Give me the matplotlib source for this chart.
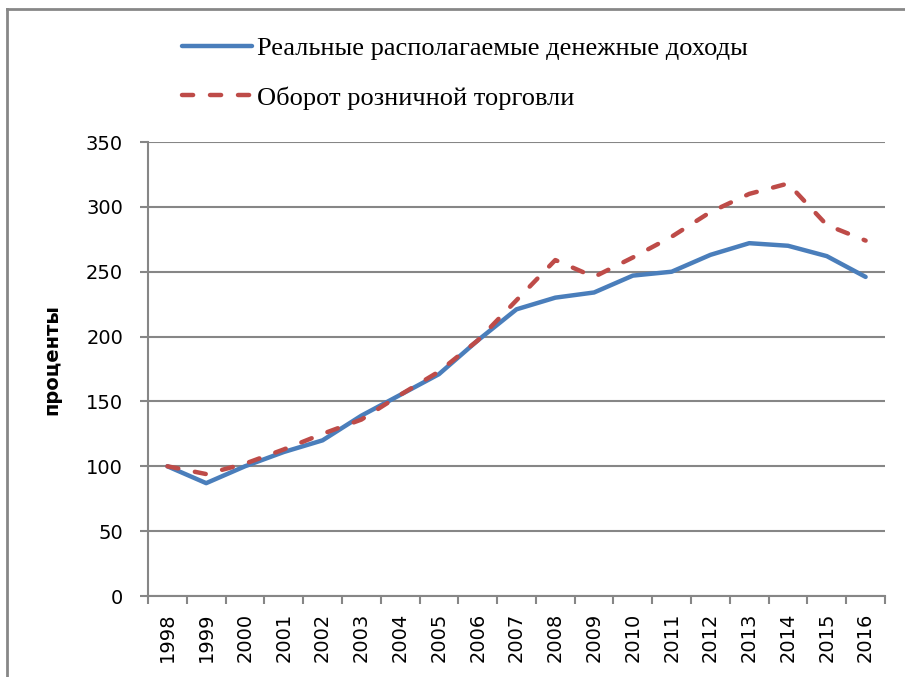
import matplotlib.pyplot as plt
from matplotlib.lines import Line2D

years = [str(y) for y in range(1998, 2017)]
income = [100, 87, 100, 111, 120, 139, 155, 171, 197, 221, 230, 234, 247, 250, 263, 272, 270, 262, 246]
retail = [100, 94, 102, 113, 125, 136, 155, 173, 197, 228, 259, 246, 261, 277, 296, 310, 318, 286, 274]

plt.rcParams['font.family'] = ['DejaVu Sans']

fig = plt.figure(figsize=(9.05, 6.77), dpi=100)
ax = fig.add_axes([148/905, 81/677, 737/905, 454/677])

x = list(range(len(years)))
ax.plot(x, income, color='#4A7EBB', lw=3.2, solid_capstyle='round', solid_joinstyle='round',
        label='Реальные располагаемые денежные доходы')
ax.plot(x, retail, color='#BE4B48', lw=3.2, dashes=(2.5, 3.8), dash_capstyle='round',
        label='Оборот розничной торговли')

ax.set_xlim(-0.5, len(years) - 0.5)
ax.set_ylim(0, 350)
ax.set_yticks(range(0, 351, 50))
ax.set_xticks(x)
ax.set_xticklabels(years, rotation=90)
ax.set_xticks([i - 0.5 for i in range(len(years) + 1)], minor=True)
ax.tick_params(axis='x', which='major', length=0, pad=12, labelsize=14)
ax.tick_params(axis='x', which='minor', length=6, width=1.5, color='#868686')
ax.tick_params(axis='y', length=6, width=1.5, color='#868686', pad=12, labelsize=14)
ax.grid(axis='y', color='#868686', lw=1.5)
ax.set_axisbelow(True)
for s in ['top', 'right']:
    ax.spines[s].set_visible(False)
for s in ['left', 'bottom']:
    ax.spines[s].set_color('#868686')
    ax.spines[s].set_linewidth(1.5)

ax.set_ylabel('проценты', fontsize=14, fontweight='bold', labelpad=8)
ax.yaxis.set_label_coords(-0.118, 0.52)

leg = ax.legend(loc='upper left', bbox_to_anchor=(182/905, 1 - 37/677), bbox_transform=fig.transFigure,
                frameon=False, handlelength=2.65, handletextpad=0.2, labelspacing=0.97,
                prop={'family': 'Liberation Serif', 'size': 19}, borderaxespad=0, borderpad=0)

# outer chart frame (only left and top edges are visible in the crop)
x0, y0 = 7/905, 1 - 9/677
fig.lines.append(Line2D([x0, x0], [0, y0], transform=fig.transFigure, color='#878787', lw=2))
fig.lines.append(Line2D([x0, 1], [y0, y0], transform=fig.transFigure, color='#878787', lw=2))

fig.savefig('out.png', dpi=100)
